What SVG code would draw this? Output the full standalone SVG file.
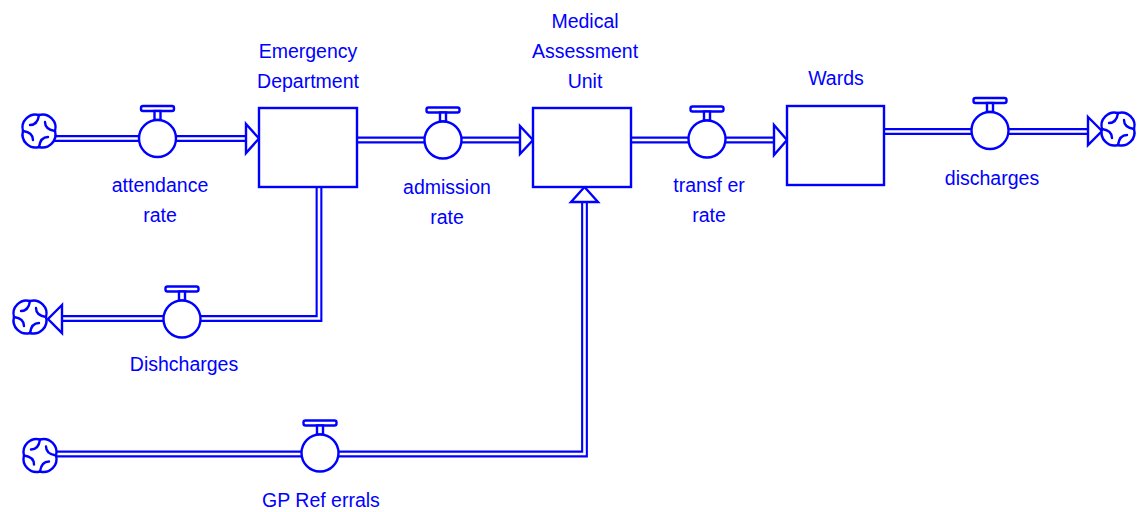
<svg xmlns="http://www.w3.org/2000/svg" xmlns:xlink="http://www.w3.org/1999/xlink" width="1140" height="512" viewBox="0 0 1140 512">
  <style>
    .pipe-outer { fill: none; stroke: #0000ff; stroke-width: 6.8; stroke-linejoin: miter; }
    .pipe-inner { fill: none; stroke: #ffffff; stroke-width: 2.6; stroke-linejoin: miter; }
    .stock { fill: #ffffff; stroke: #0000ff; stroke-width: 2.4; }
    .head { fill: #ffffff; stroke: #0000ff; stroke-width: 2.4; stroke-linejoin: miter; }
    .valve { fill: #ffffff; stroke: #0000ff; stroke-width: 2.4; }
    .cloud { fill: #ffffff; stroke: #0000ff; stroke-width: 2.4; }
    .swirl { fill: none; stroke: #0000ff; stroke-width: 2.4; stroke-linecap: round; }
    .label { font-family: "Liberation Sans", Arial, sans-serif; font-size: 19.5px; fill: #0000ff; text-anchor: middle; }
  </style>
  <defs>
    <!-- flow valve: circle with a handle on top -->
    <g id="valve">
      <rect class="valve" x="-16.5" y="-32.5" width="33" height="5" rx="2"/>
      <rect class="valve" x="-3" y="-27.5" width="6" height="9"/>
      <circle class="valve" cx="0" cy="0" r="18.5"/>
    </g>
    <!-- source / sink cloud -->
    <g id="cloud">
      <path class="cloud" d="M0,-16 A13,13 0 0 1 16,0 A13,13 0 0 1 0,16 A13,13 0 0 1 -16,0 A13,13 0 0 1 0,-16 Z"/>
      <path class="swirl" d="M0,-16 C-1,-9 -4,-6 -9,-6"/>
      <path class="swirl" d="M16,0 C9,-1 6,-4 6,-9"/>
      <path class="swirl" d="M0,16 C1,9 4,6 9,6"/>
      <path class="swirl" d="M-16,0 C-9,1 -6,4 -6,9"/>
    </g>
  </defs>

  <g id="connectors">
    <!-- double-line pipes -->
    <path class="pipe-outer" d="M54,138.5 H247"/>
    <path class="pipe-inner" d="M54,138.5 H247"/>
    <path class="pipe-outer" d="M357,140 H521"/>
    <path class="pipe-inner" d="M357,140 H521"/>
    <path class="pipe-outer" d="M631,140 H775"/>
    <path class="pipe-inner" d="M631,140 H775"/>
    <path class="pipe-outer" d="M884,131.5 H1089"/>
    <path class="pipe-inner" d="M884,131.5 H1089"/>
    <path class="pipe-outer" d="M319,187 V318.5 H61"/>
    <path class="pipe-inner" d="M319,187 V318.5 H61"/>
    <path class="pipe-outer" d="M55,454 H584.5 V201"/>
    <path class="pipe-inner" d="M55,454 H584.5 V201"/>
    <!-- hollow arrowheads -->
    <polygon class="head" points="246,124 259,138.5 246,153"/>
    <polygon class="head" points="520,126 533,140 520,154"/>
    <polygon class="head" points="774,125 787,140 774,155"/>
    <polygon class="head" points="1088,117 1102,131 1088,145"/>
    <polygon class="head" points="62,305 48,319 62,333"/>
    <polygon class="head" points="571,202 584.5,187 598,202"/>
  </g>

  <g id="emergency-department">
    <rect class="stock" x="259" y="108" width="98" height="79"/>
    <text class="label" x="308" y="58">Emergency</text>
    <text class="label" x="308" y="88">Department</text>
  </g>

  <g id="medical-assessment-unit">
    <rect class="stock" x="533" y="108" width="98" height="79"/>
    <text class="label" x="585" y="28">Medical</text>
    <text class="label" x="585" y="58">Assessment</text>
    <text class="label" x="585" y="88">Unit</text>
  </g>

  <g id="wards">
    <rect class="stock" x="787" y="106" width="97" height="79"/>
    <text class="label" x="836" y="85">Wards</text>
  </g>

  <g id="attendance-rate">
    <use xlink:href="#valve" x="157.5" y="138.5"/>
    <text class="label" x="160" y="192">attendance</text>
    <text class="label" x="160" y="222">rate</text>
  </g>

  <g id="admission-rate">
    <use xlink:href="#valve" x="443" y="140"/>
    <text class="label" x="447" y="194">admission</text>
    <text class="label" x="447" y="224">rate</text>
  </g>

  <g id="transfer-rate">
    <use xlink:href="#valve" x="707" y="139"/>
    <text class="label" x="709" y="192">transf er</text>
    <text class="label" x="709" y="222">rate</text>
  </g>

  <g id="discharges">
    <use xlink:href="#valve" x="990" y="130.5"/>
    <text class="label" x="992" y="185">discharges</text>
  </g>

  <g id="ed-discharges">
    <use xlink:href="#valve" x="182" y="319"/>
    <text class="label" x="184" y="371">Dishcharges</text>
  </g>

  <g id="gp-referrals">
    <use xlink:href="#valve" x="320" y="453"/>
    <text class="label" x="321" y="507">GP Ref errals</text>
  </g>

  <g id="clouds">
    <use xlink:href="#cloud" x="39" y="131"/>
    <use xlink:href="#cloud" x="30" y="317"/>
    <use xlink:href="#cloud" x="40" y="455.5"/>
    <use xlink:href="#cloud" x="1118" y="129"/>
  </g>
</svg>
